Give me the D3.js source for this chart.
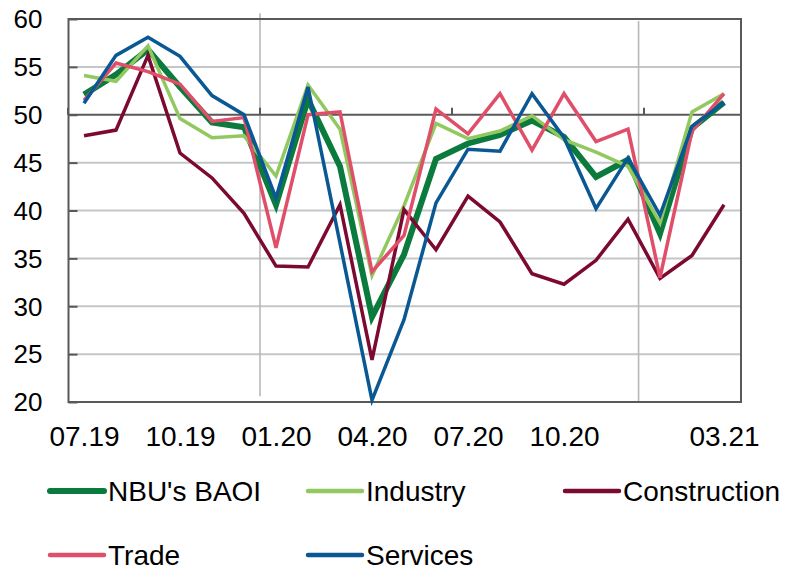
<!DOCTYPE html>
<html>
<head>
<meta charset="utf-8">
<script src="https://cdn.jsdelivr.net/npm/d3@7"></script>
<style>
  html, body { margin: 0; padding: 0; background: #fff; }
  svg { display: block; font-family: "Liberation Sans", Arial, sans-serif; }
</style>
</head>
<body>
<svg id="chart" width="787" height="571"></svg>
<script>
// Monthly categories, Jul 2019 – Mar 2021
const months = ["07.19","08.19","09.19","10.19","11.19","12.19",
                "01.20","02.20","03.20","04.20","05.20","06.20",
                "07.20","08.20","09.20","10.20","11.20","12.20",
                "01.21","02.21","03.21"];

// Business activity outlook index and its sector components
const baoi         = [52.1, 54.2, 56.8, 52.9, 49.2, 48.7, 40.6, 51.6, 44.6, 28.9, 35.4, 45.4, 47.0, 47.9, 49.4, 47.7, 43.5, 45.3, 37.6, 48.6, 51.3];
const industry     = [54.1, 53.5, 57.2, 49.6, 47.6, 47.8, 43.6, 53.1, 48.5, 33.2, 40.5, 49.1, 47.5, 48.3, 49.9, 47.4, 46.1, 44.6, 38.7, 50.3, 52.2];
const construction = [47.8, 48.4, 56.2, 46.0, 43.4, 39.7, 34.2, 34.1, 40.6, 24.4, 40.1, 35.9, 41.5, 38.8, 33.4, 32.3, 34.8, 39.1, 32.9, 35.3, 40.6];
const trade        = [51.5, 55.4, 54.5, 53.2, 49.3, 49.7, 36.1, 50.0, 50.3, 33.6, 37.4, 50.6, 48.0, 52.2, 46.3, 52.2, 47.2, 48.5, 33.0, 48.3, 52.2];
const services     = [51.2, 56.2, 58.1, 56.1, 52.0, 50.0, 41.3, 52.9, 36.6, 20.2, 28.6, 40.8, 46.4, 46.2, 52.2, 47.6, 40.2, 45.5, 39.5, 48.8, 51.3];

// Axis labels
const yTicks = [20, 25, 30, 35, 40, 45, 50, 55, 60];
const xLabels = ["07.19","10.19","01.20","04.20","07.20","10.20","03.21"];

// Series drawn bottom to top, in legend order
const seriesNames  = ["NBU's BAOI", "Industry", "Construction", "Trade", "Services"];
const seriesValues = [baoi, industry, construction, trade, services];
const seriesColors = ["#0b7a3d", "#92c860", "#7c0a30", "#e04f69", "#0a5893"];
const seriesWidths = [6, 3.5, 3.5, 3.5, 3.5];

// Year-boundary separators (category position, top and bottom value)
const separators = [{at: 5.5, top: 60.6, bottom: 20.6}, {at: 17.33, top: 59.8, bottom: 19.9}];

(function () {
  const svg = d3.select("#chart");
  const plotLeft = 68, plotRight = 740, plotTop = 19, plotBottom = 402;

  const x = d3.scalePoint().domain(months).range([plotLeft, plotRight]).padding(0.5);
  const y = d3.scaleLinear().domain([20, 60]).range([plotBottom, plotTop]);
  const step = x.step();
  const xAt = pos => x(months[0]) + pos * step;

  const axisDark = "#595959";
  const gridGray = "#c3c6ca";

  // horizontal gridlines
  svg.append("g").selectAll("line")
    .data(yTicks.filter(v => v !== 20 && v !== 60 && v !== 50))
    .join("line")
    .attr("x1", plotLeft).attr("x2", plotRight + 1)
    .attr("y1", d => y(d)).attr("y2", d => y(d))
    .attr("stroke", gridGray).attr("stroke-width", 2);

  // vertical separators
  svg.append("g").selectAll("line")
    .data(separators)
    .join("line")
    .attr("x1", d => xAt(d.at)).attr("x2", d => xAt(d.at))
    .attr("y1", d => y(d.top)).attr("y2", d => y(d.bottom))
    .attr("stroke", "#b8b8b8").attr("stroke-width", 1.6);

  // frame
  svg.append("rect")
    .attr("x", plotLeft + 0.5).attr("y", plotTop)
    .attr("width", plotRight - plotLeft + 0.5).attr("height", plotBottom - plotTop)
    .attr("fill", "none").attr("stroke", axisDark).attr("stroke-width", 2);

  // category axis crossing at 50
  svg.append("line")
    .attr("x1", plotLeft).attr("x2", plotRight + 1)
    .attr("y1", y(50)).attr("y2", y(50))
    .attr("stroke", axisDark).attr("stroke-width", 2);
  svg.append("g").selectAll("line")
    .data([0, 6, 12, 18])
    .join("line")
    .attr("x1", d => xAt(d - 0.5)).attr("x2", d => xAt(d - 0.5))
    .attr("y1", y(50)).attr("y2", y(50) - 7)
    .attr("stroke", axisDark).attr("stroke-width", 2);

  // y axis
  const yAxis = d3.axisLeft(y).tickValues(yTicks).tickSize(-9).tickPadding(26);
  const gy = svg.append("g").attr("transform", `translate(${plotLeft + 0.5},0)`).call(yAxis);
  gy.select(".domain").remove();
  gy.selectAll(".tick line").attr("stroke", axisDark).attr("stroke-width", 2);
  gy.selectAll(".tick text")
    .attr("fill", "#000").attr("font-size", 26)
    .attr("font-family", "'Liberation Sans', Arial, sans-serif")
    .attr("dy", "0.34em");

  // x labels
  const xAxis = d3.axisBottom(x).tickValues(xLabels).tickSize(0).tickPadding(24);
  const gx = svg.append("g").attr("transform", `translate(0,${plotBottom})`).call(xAxis);
  gx.select(".domain").remove();
  gx.selectAll(".tick text")
    .attr("fill", "#000").attr("font-size", 28)
    .attr("font-family", "'Liberation Sans', Arial, sans-serif");

  // series lines
  const line = d3.line().x((d, i) => x(months[i])).y(d => y(d));
  svg.append("g").selectAll("path")
    .data(seriesValues)
    .join("path")
    .attr("d", d => line(d))
    .attr("fill", "none")
    .attr("stroke", (d, i) => seriesColors[i])
    .attr("stroke-width", (d, i) => seriesWidths[i])
    .attr("stroke-linejoin", "miter")
    .attr("stroke-miterlimit", 4);

  // legend
  const legendPos = [[50, 491], [308, 491], [565, 491], [50, 555], [308, 555]];
  const lg = svg.append("g").selectAll("g")
    .data(seriesNames)
    .join("g")
    .attr("transform", (d, i) => `translate(${legendPos[i][0]},${legendPos[i][1]})`);
  lg.append("line")
    .attr("x1", 0).attr("x2", 54).attr("y1", 0).attr("y2", 0)
    .attr("stroke", (d, i) => seriesColors[i])
    .attr("stroke-width", (d, i) => i === 0 ? 6 : 4.5)
    .attr("stroke-linecap", "round");
  lg.append("text")
    .attr("x", 58).attr("y", 0).attr("dy", "0.36em")
    .attr("font-size", 28).attr("fill", "#000")
    .text(d => d);
})();
</script>
</body>
</html>
